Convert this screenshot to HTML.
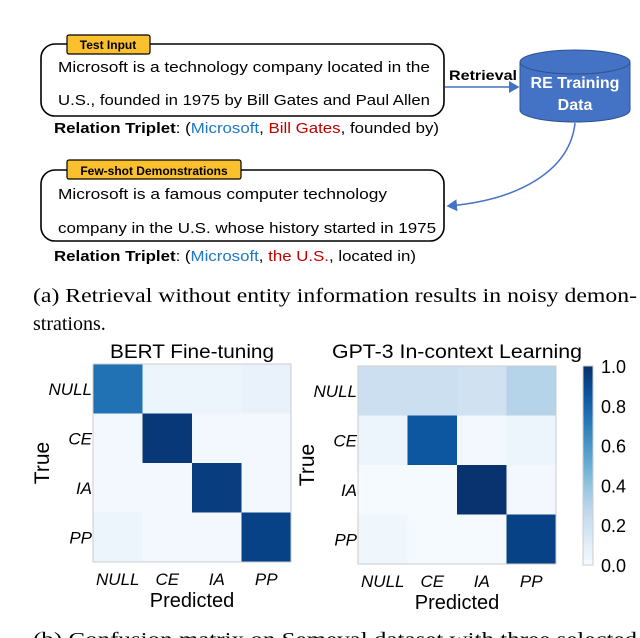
<!DOCTYPE html>
<html><head><meta charset="utf-8"><style>
body{margin:0;width:640px;height:638px;overflow:hidden;background:#fff;font-family:"Liberation Sans",sans-serif}
svg{position:absolute;left:0;top:0}
</style></head><body>
<svg width="640" height="638" viewBox="0 0 640 638">
<defs><marker id="ah" markerWidth="8" markerHeight="8" refX="6" refY="4" orient="auto"><path d="M0,0 L7,4 L0,8 z" fill="#4472c4"/></marker></defs>
<g font-family="Liberation Sans, sans-serif">
<rect x="41" y="44" width="403" height="72" rx="14" fill="#fff" stroke="#000" stroke-width="1.6"/>
<rect x="67" y="35" width="83" height="19" rx="2" fill="#fbc02d" stroke="#000" stroke-width="1.2"/>
<text x="108" y="49" font-size="12" font-weight="bold" text-anchor="middle">Test Input</text>
<text x="58" y="72" font-size="15" textLength="372" lengthAdjust="spacingAndGlyphs">Microsoft is a technology company located in the</text>
<text x="58" y="105" font-size="15" textLength="372" lengthAdjust="spacingAndGlyphs">U.S., founded in 1975 by Bill Gates and Paul Allen</text>
<text x="54" y="133" font-size="15" textLength="385" lengthAdjust="spacingAndGlyphs"><tspan font-weight="bold">Relation Triplet</tspan>: (<tspan fill="#1f77c4">Microsoft</tspan>, <tspan fill="#c00000">Bill Gates</tspan>, founded by)</text>
<text x="449" y="80" font-size="14" font-weight="bold" textLength="68" lengthAdjust="spacingAndGlyphs">Retrieval</text>
<line x1="445" y1="87" x2="518" y2="87" stroke="#4472c4" stroke-width="1.5" marker-end="url(#ah)"/>
<g>
<path d="M520,62 L520,110 A55,12 0 0 0 630,110 L630,62" fill="#4472c4" stroke="#2f528f"/>
<ellipse cx="575" cy="62" rx="55" ry="12" fill="#4472c4" stroke="#2f528f"/>
<text x="575" y="88" font-size="16" font-weight="bold" fill="#fff" text-anchor="middle">RE Training</text>
<text x="575" y="110" font-size="16" font-weight="bold" fill="#fff" text-anchor="middle">Data</text>
</g>
<path d="M575,123 C570,170 520,200 448,206" fill="none" stroke="#4472c4" stroke-width="1.5" marker-end="url(#ah)"/>
<rect x="41" y="170" width="403" height="71" rx="14" fill="#fff" stroke="#000" stroke-width="1.6"/>
<rect x="67" y="160" width="174" height="19" rx="2" fill="#fbc02d" stroke="#000" stroke-width="1.2"/>
<text x="154" y="175" font-size="12" font-weight="bold" text-anchor="middle">Few-shot Demonstrations</text>
<text x="58" y="199" font-size="15" textLength="329" lengthAdjust="spacingAndGlyphs">Microsoft is a famous computer technology</text>
<text x="58" y="233" font-size="15" textLength="378" lengthAdjust="spacingAndGlyphs">company in the U.S. whose history started in 1975</text>
<text x="54" y="261" font-size="15" textLength="362" lengthAdjust="spacingAndGlyphs"><tspan font-weight="bold">Relation Triplet</tspan>: (<tspan fill="#1f77c4">Microsoft</tspan>, <tspan fill="#c00000">the U.S.</tspan>, located in)</text>
</g>
<text x="33" y="302" font-size="20" font-family="Liberation Serif, serif" textLength="604" lengthAdjust="spacingAndGlyphs">(a) Retrieval without entity information results in noisy demon-</text>
<text x="33" y="330" font-size="20" font-family="Liberation Serif, serif">strations.</text>
<g id="charts"></g>
<text x="33" y="646" font-size="20" font-family="Liberation Serif, serif" textLength="604" lengthAdjust="spacingAndGlyphs">(b) Confusion matrix on Semeval dataset with three selected</text>
</svg>
<script>
const labels=["NULL","CE","IA","PP"];
const bertValues=[[0.75,0.05,0.05,0.07],[0.02,0.97,0.02,0.02],[0.02,0.02,0.95,0.02],[0.05,0.02,0.02,0.93]];
const gptValues=[[0.22,0.22,0.20,0.30],[0.05,0.85,0.02,0.05],[0.01,0.01,0.99,0.02],[0.04,0.01,0.01,0.93]];
const cbTicks=[0,0.2,0.4,0.6,0.8,1.0];
const NS="http://www.w3.org/2000/svg";
const g=document.getElementById('charts');
const stops=[[247,251,255],[222,235,247],[198,219,239],[158,202,225],[107,174,214],[66,146,198],[33,113,181],[8,81,156],[8,48,107]];
function blues(v){v=Math.max(0,Math.min(1,v));const p=v*(stops.length-1);const i=Math.min(Math.floor(p),stops.length-2);const f=p-i;
const c=stops[i].map((a,k)=>Math.round(a+(stops[i+1][k]-a)*f));return `rgb(${c})`;}
function el(t,a,txt){const e=document.createElementNS(NS,t);for(const k in a)e.setAttribute(k,a[k]);if(txt!=null)e.textContent=txt;g.appendChild(e);return e;}
function matrix(vals,x0,y0,w,h,title,name,tl){
 const cw=w/labels.length,ch=h/labels.length;
 const t=el('text',{x:x0+w/2,y:358,'font-size':19,'text-anchor':'middle',textLength:tl,lengthAdjust:'spacingAndGlyphs'},title);
 
 
 vals.forEach((row,r)=>row.forEach((v,c)=>{
  const rc=el('rect',{x:x0+c*cw,y:y0+r*ch,width:cw+0.5,height:ch+0.5,fill:blues(v)});
  
  
 }));
 el('rect',{x:x0,y:y0,width:w,height:h,fill:'none',stroke:'#ccc'});
 labels.forEach((l,i)=>{
  const yl=el('text',{x:x0-1,y:y0+(i+0.5)*ch+6,'font-size':17,'font-style':'italic','text-anchor':'end'},l);
  
  
  const xl=el('text',{x:x0+(i+0.5)*cw,y:y0+h+23,'font-size':17,'font-style':'italic','text-anchor':'middle'},l);
  
  
 });
 const px=el('text',{x:x0+w/2,y:y0+h+45,'font-size':20,'text-anchor':'middle'},'Predicted');
 
 
 const ty=y0+h/2;
 const tr=el('text',{x:x0-50,y:ty+6,'font-size':21,'text-anchor':'middle',transform:`rotate(-90 ${x0-50} ${ty})`},'True');
 
 
}
matrix(bertValues,93,364,198,198,'BERT Fine-tuning','bert-matrix',164);
matrix(gptValues,358,366,198,198,'GPT-3 In-context Learning','gpt3-matrix',250);
const cbx=583,cby=366,cbw=10,cbh=199;
for(let i=0;i<100;i++){el('rect',{x:cbx,y:cby+cbh*(1-(i+1)/100),width:cbw,height:cbh/100+0.6,fill:blues((i+0.5)/100)});}
const cb=el('rect',{x:cbx,y:cby,width:cbw,height:cbh,fill:'none',stroke:'#ccc'});


cbTicks.forEach(v=>{
 const t=el('text',{x:cbx+18,y:cby+cbh*(1-v)+7,'font-size':18},v.toFixed(1));
 
 
});
</script>
</body></html>
